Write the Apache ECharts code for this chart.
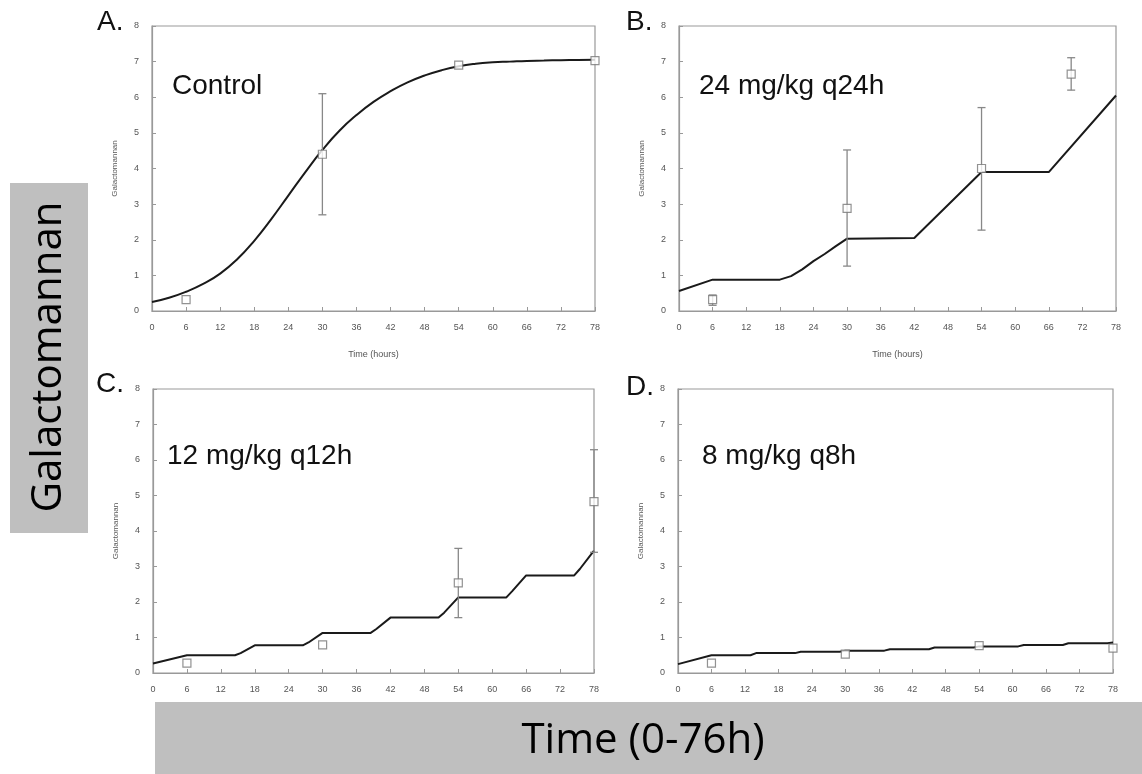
<!DOCTYPE html>
<html>
<head>
<meta charset="utf-8">
<script src="https://cdn.jsdelivr.net/npm/echarts@6/dist/echarts.min.js"></script>
<style>
  html, body { margin: 0; padding: 0; background: #fff; }
  #main { width: 1142px; height: 774px; }
</style>
</head>
<body>
<div id="main"></div>
<script>
// model curves (hours, galactomannan)
const timeA = [0, 3, 6, 9, 12, 15, 18, 21, 24, 27, 30, 33, 36, 39, 42, 45, 48, 51, 54, 57, 60, 63, 66, 69, 72, 75, 78]
const curveA = [0.25, 0.37, 0.54, 0.76, 1.05, 1.45, 1.97, 2.58, 3.24, 3.9, 4.52, 5.06, 5.5, 5.87, 6.17, 6.42, 6.61, 6.76, 6.87, 6.94, 6.98, 7.0, 7.02, 7.03, 7.04, 7.045, 7.05]

const timeB = [0, 6, 18, 20, 22, 24, 26, 28, 30, 42, 54, 66, 78]
const curveB = [0.56, 0.88, 0.88, 0.98, 1.17, 1.4, 1.6, 1.82, 2.03, 2.05, 3.9, 3.9, 6.05]

const timeC = [0, 6, 14.5, 15.5, 18, 26.5, 27.5, 30, 38.5, 39.5, 42, 50.5, 51.5, 54, 62.5, 63.5, 66, 74.5, 75.5, 78]
const curveC = [0.27, 0.5, 0.5, 0.56, 0.78, 0.78, 0.86, 1.13, 1.13, 1.24, 1.56, 1.56, 1.7, 2.13, 2.13, 2.3, 2.75, 2.75, 2.93, 3.45]

const timeD = [0, 6, 13, 14, 21, 22, 29, 30, 37, 38, 45, 46, 53, 54, 61, 62, 69, 70, 77, 78]
const curveD = [0.25, 0.5, 0.5, 0.56, 0.56, 0.6, 0.6, 0.63, 0.63, 0.67, 0.67, 0.72, 0.72, 0.75, 0.75, 0.79, 0.79, 0.84, 0.84, 0.86]

// observed means with error bars
const obsTimeA = [6, 30, 54, 78]
const obsMeanA = [0.32, 4.4, 6.9, 7.03]
const obsLowA = [null, 2.7, null, null]
const obsHighA = [null, 6.1, null, null]

const obsTimeB = [6, 30, 54, 70]
const obsMeanB = [0.32, 2.88, 4.0, 6.65]
const obsLowB = [0.16, 1.26, 2.27, 6.2]
const obsHighB = [0.45, 4.52, 5.71, 7.11]

const obsTimeC = [6, 30, 54, 78]
const obsMeanC = [0.28, 0.79, 2.54, 4.83]
const obsLowC = [null, null, 1.56, 3.4]
const obsHighC = [null, null, 3.51, 6.29]

const obsTimeD = [6, 30, 54, 78]
const obsMeanD = [0.28, 0.53, 0.77, 0.7]

const panelLetters = ['A.', 'B.', 'C.', 'D.']
const panelLabels = ['Control', '24 mg/kg q24h', '12 mg/kg q12h', '8 mg/kg q8h']

const grids = [
  { left: 152, top: 26, width: 443, height: 285 },
  { left: 679, top: 26, width: 437, height: 285 },
  { left: 153, top: 389, width: 441, height: 284 },
  { left: 678, top: 389, width: 435, height: 284 }
]

const small = { fontFamily: 'Liberation Sans', fontSize: 9, color: '#555' }

function pairs(xs, ys) {
  return xs.map((x, i) => [x, ys[i]])
}

function curve(i, xs, ys, smooth) {
  return {
    type: 'line', xAxisIndex: i, yAxisIndex: i,
    data: pairs(xs, ys), smooth: smooth, showSymbol: false,
    lineStyle: { color: '#1a1a1a', width: 2 }, z: 3
  }
}

function markers(i, xs, ys) {
  return {
    type: 'scatter', xAxisIndex: i, yAxisIndex: i,
    data: pairs(xs, ys), symbol: 'rect', symbolSize: 8, clip: false,
    itemStyle: { color: '#fff', borderColor: '#777', borderWidth: 1.2 }, z: 5
  }
}

function errorBars(i, xs, lo, hi) {
  const data = []
  xs.forEach((x, k) => { if (lo[k] != null) data.push([x, lo[k], hi[k]]) })
  return {
    type: 'custom', xAxisIndex: i, yAxisIndex: i, data: data, clip: false,
    encode: { x: 0, y: [1, 2] }, z: 4,
    renderItem: function (params, api) {
      const top = api.coord([api.value(0), api.value(2)])
      const bot = api.coord([api.value(0), api.value(1)])
      const w = 4
      const st = { stroke: '#888', lineWidth: 1.3 }
      return {
        type: 'group',
        children: [
          { type: 'line', shape: { x1: top[0], y1: top[1], x2: bot[0], y2: bot[1] }, style: st },
          { type: 'line', shape: { x1: top[0] - w, y1: top[1], x2: top[0] + w, y2: top[1] }, style: st },
          { type: 'line', shape: { x1: bot[0] - w, y1: bot[1], x2: bot[0] + w, y2: bot[1] }, style: st }
        ]
      }
    }
  }
}

const xAxes = grids.map((g, i) => ({
  type: 'value', gridIndex: i, min: 0, max: 78, interval: 6,
  name: 'Time (hours)', nameLocation: 'middle', nameGap: 39,
  nameTextStyle: small,
  axisLine: { lineStyle: { color: '#999', width: 1.2 } },
  axisTick: { inside: true, length: 4, lineStyle: { color: '#999' } },
  axisLabel: Object.assign({ margin: 12 }, small),
  splitLine: { show: false }
}))

const yAxes = grids.map((g, i) => ({
  type: 'value', gridIndex: i, min: 0, max: 8, interval: 1,
  name: 'Galactomannan', nameLocation: 'middle', nameGap: 33,
  nameTextStyle: { fontFamily: 'Liberation Sans', fontSize: 8, color: '#555' },
  axisLine: { lineStyle: { color: '#999', width: 1.2 } },
  axisTick: { inside: true, length: 4, lineStyle: { color: '#999' } },
  axisLabel: Object.assign({ margin: 13 }, small),
  splitLine: { show: false }
}))

const letterPos = [[97, 22], [626, 22], [96, 384], [626, 387]]
const labelPos = [[172, 86], [699, 86], [167, 456], [702, 456]]

const graphics = []
panelLetters.forEach((t, i) => {
  graphics.push({
    type: 'text', x: letterPos[i][0], y: letterPos[i][1], z: 10,
    style: { text: t, font: '28px "Liberation Sans"', fill: '#111', verticalAlign: 'middle', textVerticalAlign: 'middle' }
  })
  graphics.push({
    type: 'text', x: labelPos[i][0], y: labelPos[i][1], z: 10,
    style: { text: panelLabels[i], font: '28px "Liberation Sans"', fill: '#111', verticalAlign: 'middle', textVerticalAlign: 'middle' }
  })
})
// gray caption boxes
graphics.push({ type: 'rect', z: 20, shape: { x: 10, y: 183, width: 78, height: 350 }, style: { fill: '#bfbfbf' } })
graphics.push({
  type: 'text', x: 49, y: 357, rotation: Math.PI / 2, z: 21,
  style: { text: 'Galactomannan', font: '42px "Open Sans"', fill: '#000', align: 'center', textAlign: 'center', verticalAlign: 'middle', textVerticalAlign: 'middle' }
})
graphics.push({ type: 'rect', z: 20, shape: { x: 155, y: 702, width: 987, height: 72 }, style: { fill: '#bfbfbf' } })
graphics.push({
  type: 'text', x: 643, y: 741, z: 21,
  style: { text: 'Time (0-76h)', font: '42px "Open Sans"', fill: '#000', align: 'center', textAlign: 'center', verticalAlign: 'middle', textVerticalAlign: 'middle' }
})

const chart = echarts.init(document.getElementById('main'))
chart.setOption({
  animation: false,
  grid: grids.map(g => Object.assign({ show: true, borderColor: '#999', borderWidth: 1.2, backgroundColor: '#fff' }, g)),
  xAxis: xAxes,
  yAxis: yAxes,
  graphic: graphics,
  series: [
    curve(0, timeA, curveA, true),
    curve(1, timeB, curveB, false),
    curve(2, timeC, curveC, false),
    curve(3, timeD, curveD, false),
    errorBars(0, obsTimeA, obsLowA, obsHighA),
    errorBars(1, obsTimeB, obsLowB, obsHighB),
    errorBars(2, obsTimeC, obsLowC, obsHighC),
    markers(0, obsTimeA, obsMeanA),
    markers(1, obsTimeB, obsMeanB),
    markers(2, obsTimeC, obsMeanC),
    markers(3, obsTimeD, obsMeanD)
  ]
})
</script>
</body>
</html>
